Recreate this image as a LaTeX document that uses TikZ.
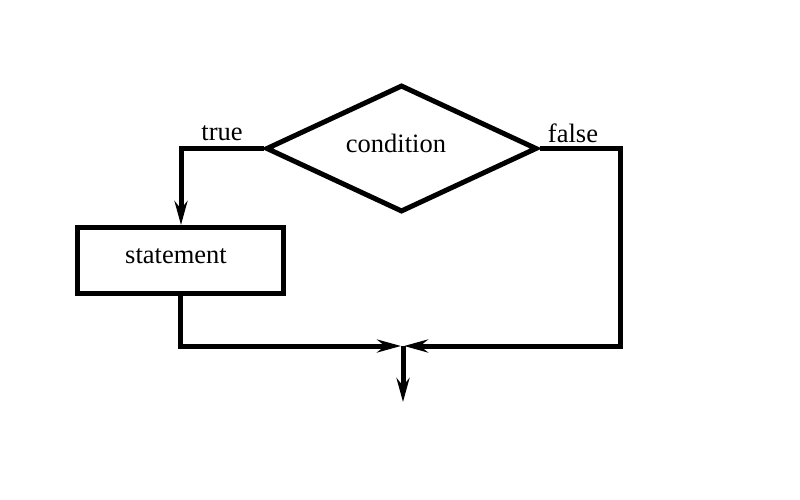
\documentclass[tikz,border=0pt]{standalone}
\usepackage{fontspec}
\setmainfont{Liberation Serif}
\usetikzlibrary{shapes.geometric,arrows.meta}
\begin{document}
\begin{tikzpicture}[x=1pt,y=-1pt,
  box/.style={draw,line width=5pt,minimum width=206pt,minimum height=66pt,inner sep=0pt},
  decision/.style={draw,diamond,line width=5pt,minimum width=271pt,minimum height=127pt,inner sep=0pt},
  txt/.style={font=\fontsize{26.5}{30}\selectfont,inner sep=0pt},
  conn/.style={line width=5pt,-{Stealth[length=24pt,width=13pt,inset=8pt]}},
  plain/.style={line width=5pt}]
\useasboundingbox (0,0) rectangle (800,500);
\node[decision] (cond) at (401.5,148.5) {};
\node[txt] (condtext) at (396,143) {condition};
\node[txt] (stmttext) at (176,256) {statement};
\node[box] (stmt) at (180.5,260.5) {};
\node[txt] (truelbl) at (222,133) {true};
\node[txt] (falselbl) at (573,133) {false};
\coordinate (j) at (403,346);
\coordinate (out) at (403,402);
\coordinate (tl) at (181,148.5);
\coordinate (fr) at (620,148.5);
\draw[conn] (cond.west) -- (tl) -- (tl |- stmt.north);
\draw[conn,shorten >=2pt] (stmt.south) |- (j);
\draw[conn,shorten >=1pt] (cond.east) -- (fr) |- (j);
\draw[conn] (j) -- (out);
\end{tikzpicture}
\end{document}
